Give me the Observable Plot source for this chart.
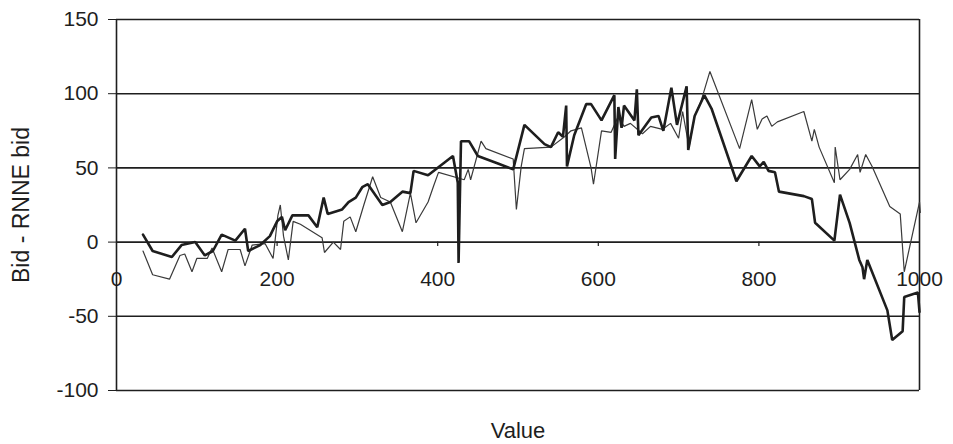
<!DOCTYPE html>
<html>
<head>
<meta charset="utf-8">
<script src="https://cdn.jsdelivr.net/npm/d3@7"></script>
<script src="https://cdn.jsdelivr.net/npm/@observablehq/plot@0.6"></script>
<style>
  html, body { margin: 0; padding: 0; background: #fff; }
  #chart svg { display: block; }
</style>
</head>
<body>
<div id="chart"></div>
<script>
// Bold (thick) series
const boldX = [33,45,69,81,98,110,120,131,148,160,164,179,191,200,206,210,219,239,250,258,263,281,289,298,306,313,331,341,356,366,370,388,419,425,426,429,439,450,475,494,508,533,541,550,556,560,561,570,585,591,604,620,621,625,629,632,645,648,650,666,675,681,691,698,710,712,720,732,741,772,791,801,806,812,820,825,856,866,870,894,901,913,925,929,931,935,960,966,979,981,998,1000];
const boldY = [5,-6,-10,-2,0,-9,-6,5,1,9,-6,-2,4,14,17,8,18,18,10,30,19,22,27,30,37,39,25,27,34,33,48,45,58,40,-14,68,68,58,53,49,79,66,64,74,71,92,51,72,93,93,82,99,56,91,77,92,82,103,72,84,85,75,104,79,105,62,85,99,90,41,58,51,54,48,47,34,31,29,13,1,32,13,-12,-17,-25,-12,-46,-66,-60,-37,-34,-47];

// Thin series
const thinX = [33,45,66,79,85,94,100,113,119,131,139,154,160,169,185,195,201,204,208,214,220,229,256,259,270,279,283,291,298,308,319,329,341,356,366,373,388,395,401,433,438,441,454,460,494,498,504,508,541,558,566,579,591,594,604,616,625,632,640,655,665,680,690,700,705,713,720,728,739,776,791,798,804,810,816,823,856,866,869,875,894,895,901,913,923,926,933,941,963,976,981,1000,1001];
const thinY = [-6,-22,-25,-9,-8,-20,-11,-11,-4,-20,-5,-5,-16,-2,-1,-11,18,25,4,-12,14,12,3,-7,0,-5,14,17,7,25,44,30,27,7,33,13,27,38,47,42,49,42,68,63,56,22,51,63,64,71,75,77,50,39,75,74,85,78,80,73,78,76,80,70,88,64,85,95,115,63,96,76,83,85,78,81,88,68,76,64,40,64,42,49,59,47,59,51,24,19,-20,27,20];

const yTicks = [-100, -50, 0, 50, 100, 150];
const xTicks = [0, 200, 400, 600, 800, 1000];
const yLabel = "Bid - RNNE bid";
const xLabel = "Value";

const bold = boldX.map((x, i) => ({x, y: boldY[i]}));
const thin = thinX.map((x, i) => ({x, y: thinY[i]}));

const ink = "#1e1e1e";
const fs = 21;

const chart = Plot.plot({
  width: 953,
  height: 444,
  marginLeft: 116,
  marginRight: 34,
  marginTop: 19,
  marginBottom: 54,
  style: {fontFamily: "'Liberation Sans', Arial, sans-serif", fontSize: fs + "px", color: ink, background: "#fff"},
  x: {domain: [0, 1000], axis: null},
  y: {domain: [-100, 150], axis: null},
  marks: [
    Plot.ruleY(yTicks, {stroke: ink, strokeWidth: 1.6}),
    Plot.ruleX([0, 1000], {stroke: ink, strokeWidth: 1.6}),
    Plot.ruleX(xTicks.slice(1, -1), {x: d => d, y1: 0, y2: -3, stroke: ink, strokeWidth: 1.2}),
    Plot.text(xTicks, {x: d => d, y: 0, text: d => String(d), dy: 37, fill: ink, fontSize: fs, textAnchor: "middle"}),
    Plot.axisY({ticks: yTicks, tickFormat: d => String(d), tickSize: 8, tickPadding: 10, fontSize: fs, label: null, stroke: ink, fill: ink}),
    Plot.text([yLabel], {frameAnchor: "left", text: d => d, rotate: -90, dx: -95, fontSize: 23, fill: ink, textAnchor: "middle", lineAnchor: "middle"}),
    Plot.text([xLabel], {frameAnchor: "bottom", text: d => d, dy: 40, fontSize: 22, fill: ink, textAnchor: "middle", lineAnchor: "middle"}),
    Plot.line(thin, {x: "x", y: "y", stroke: "#3a3a3a", strokeWidth: 1.2, strokeLinejoin: "miter"}),
    Plot.line(bold, {x: "x", y: "y", stroke: ink, strokeWidth: 2.6, strokeLinejoin: "miter"})
  ]
});
document.getElementById("chart").appendChild(chart);
</script>
</body>
</html>
